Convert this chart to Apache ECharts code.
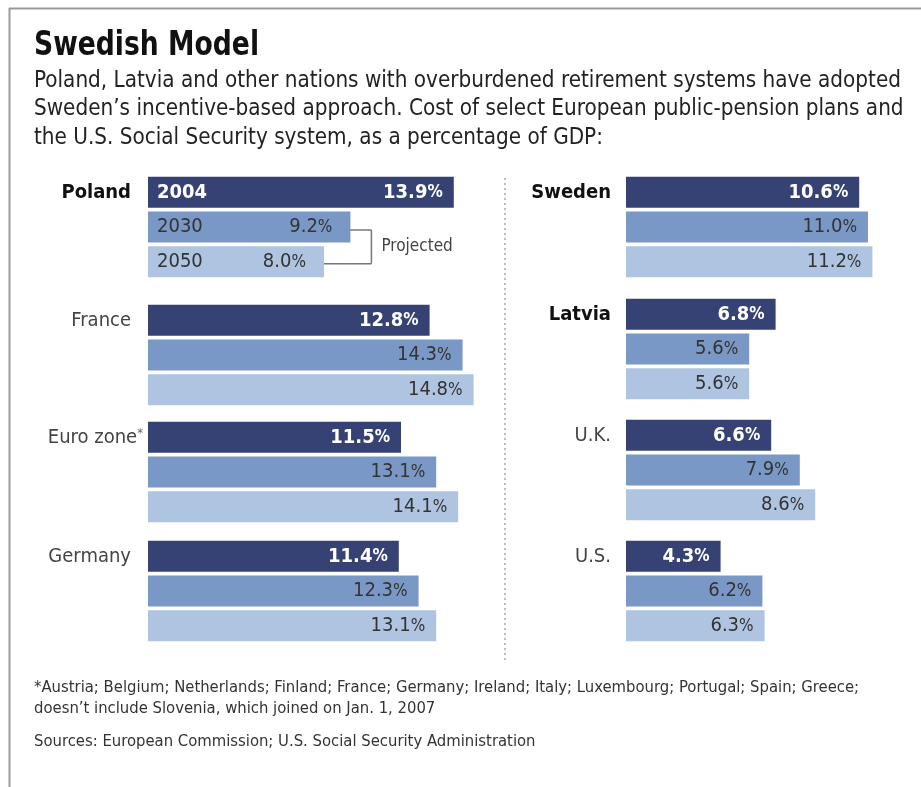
<!DOCTYPE html>
<html><head><meta charset="utf-8">
<script src="https://cdn.jsdelivr.net/npm/echarts@6/dist/echarts.min.js"></script>
<style>html,body{margin:0;padding:0;background:#fff}#c{width:921px;height:787px}</style>
</head><body><div id="c"></div>
<script>
// ---------------- data ----------------
const years = ['2004', '2030', '2050'];
const leftCountries = ['Poland', 'France', 'Euro zone', 'Germany'];
const rightCountries = ['Sweden', 'Latvia', 'U.K.', 'U.S.'];
const poland = [13.9, 9.2, 8.0];
const france = [12.8, 14.3, 14.8];
const euroZone = [11.5, 13.1, 14.1];
const germany = [11.4, 12.3, 13.1];
const sweden = [10.6, 11.0, 11.2];
const latvia = [6.8, 5.6, 5.6];
const uk = [6.6, 7.9, 8.6];
const us = [4.3, 6.2, 6.3];
const boldCountries = ['Poland', 'Sweden', 'Latvia'];
const footnoteCountries = ['Euro zone'];

const titleText = 'Swedish Model';
const subtitleLines = [
  'Poland, Latvia and other nations with overburdened retirement systems have adopted',
  'Sweden\u2019s incentive-based approach. Cost of select European public-pension plans and',
  'the U.S. Social Security system, as a percentage of GDP:'
];
const footLines = [
  '*Austria; Belgium; Netherlands; Finland; France; Germany; Ireland; Italy; Luxembourg; Portugal; Spain; Greece;',
  'doesn\u2019t include Slovenia, which joined on Jan. 1, 2007'
];
const sourceText = 'Sources: European Commission; U.S. Social Security Administration';
const projectedText = 'Projected';

// ---------------- layout / style ----------------
const FONT = '"DejaVu Sans Condensed", "Liberation Sans Narrow", "DejaVu Sans", sans-serif';
const COLORS = ['#364273', '#7a98c5', '#aec4e1'];
const LX = 148, RX = 626, PX = 22, LMAX = 15, RMAX = 12;
const leftTops = [175, 303, 420, 539];
const rightTops = [175, 297, 418, 539];
const leftValues = [poland, france, euroZone, germany];
const rightValues = [sweden, latvia, uk, us];

const groups = [];
leftCountries.forEach((c, i) => groups.push({ name: c, values: leftValues[i], left: LX, max: LMAX, top: leftTops[i], margin: footnoteCountries.includes(c) ? 5 : 17 }));
rightCountries.forEach((c, i) => groups.push({ name: c, values: rightValues[i], left: RX, max: RMAX, top: rightTops[i], margin: 15 }));

const grids = [], xAxes = [], yAxes = [], series = [];
groups.forEach((g, i) => {
  grids.push({ left: g.left, top: g.top, width: g.max * PX, height: 104 });
  xAxes.push({ gridIndex: i, type: 'value', min: 0, max: g.max, show: false });
  yAxes.push({
    gridIndex: i, type: 'category', data: years, inverse: true,
    axisLine: { show: false }, axisTick: { show: false }, splitLine: { show: false },
    axisLabel: {
      margin: g.margin, interval: 0,
      formatter: (v, idx) => idx !== 0 ? '' :
        (boldCountries.includes(g.name) ? '{b|' + g.name + '}' :
          '{n|' + g.name + '}' + (footnoteCountries.includes(g.name) ? '{s|*}' : '')),
      rich: {
        b: { fontFamily: FONT, fontSize: 20, fontWeight: 'bold', color: '#111' },
        n: { fontFamily: FONT, fontSize: 20, color: '#444' },
        s: { fontFamily: FONT, fontSize: 13, color: '#666', padding: [0, 0, 8, 0] }
      }
    }
  });
  const isPoland = g.name === 'Poland';
  series.push({
    type: 'bar', xAxisIndex: i, yAxisIndex: i, barWidth: 31, silent: true,
    data: g.values.map((v, k) => {
      const col = k === 0 ? '#fff' : '#333';
      const fw = k === 0 ? 'bold' : 'normal';
      return {
        value: v,
        itemStyle: { color: COLORS[k] },
        label: {
          show: true, position: 'insideRight',
          distance: (isPoland && k > 0) ? 18 : 11,
          formatter: p => '{v|' + p.value.toFixed(1) + '}{p|%}',
          rich: {
            v: { fontFamily: FONT, fontSize: 20, fontWeight: fw, color: col },
            p: { fontFamily: FONT, fontSize: 17, fontWeight: fw, color: col, padding: [1, 0, 0, 0] }
          }
        }
      };
    })
  });
  if (isPoland) {
    series.push({
      type: 'bar', xAxisIndex: i, yAxisIndex: i, barWidth: 31, barGap: '-100%', silent: true,
      data: g.values.map((v, k) => ({
        value: v,
        itemStyle: { color: 'rgba(0,0,0,0)' },
        label: {
          show: true, position: 'insideLeft', distance: 9,
          fontFamily: FONT, fontSize: 20,
          fontWeight: k === 0 ? 'bold' : 'normal',
          color: k === 0 ? '#fff' : '#333',
          formatter: p => years[p.dataIndex]
        }
      }))
    });
  }
});

const chart = echarts.init(document.getElementById('c'), null, { renderer: 'canvas' });
chart.setOption({
  animation: false, backgroundColor: '#fff',
  grid: grids, xAxis: xAxes, yAxis: yAxes, series: series
});

// bracket for projected values, computed from Poland's axis
const p30 = chart.convertToPixel({ xAxisIndex: 0, yAxisIndex: 0 }, [poland[1], 1]);
const p50 = chart.convertToPixel({ xAxisIndex: 0, yAxisIndex: 0 }, [poland[2], 2]);
const vx = Math.max(p30[0], p50[0]) + 21;
const y30 = p30[1] + 3, y50 = p50[1] + 2;
const lineStyle = { stroke: '#777', lineWidth: 1.5 };

const graphic = [
  { type: 'line', shape: { x1: 9, y1: 8.5, x2: 921, y2: 8.5 }, style: { stroke: '#9a9a9a', lineWidth: 2 } },
  { type: 'line', shape: { x1: 9.5, y1: 8, x2: 9.5, y2: 787 }, style: { stroke: '#9a9a9a', lineWidth: 2 } },
  { type: 'line', shape: { x1: 505, y1: 178, x2: 505, y2: 662 }, style: { stroke: '#aaa', lineWidth: 1.5, lineDash: [2, 3] } },
  { type: 'text', x: 34, y: 46, scaleX: 0.87, style: { text: titleText, fontFamily: FONT, fontSize: 34, fontWeight: 'bold', fill: '#111', verticalAlign: 'middle' } },
  { type: 'line', shape: { x1: p30[0] - 10, y1: y30, x2: vx, y2: y30 }, style: lineStyle },
  { type: 'line', shape: { x1: p50[0] - 4, y1: y50, x2: vx, y2: y50 }, style: lineStyle },
  { type: 'line', shape: { x1: vx, y1: y30, x2: vx, y2: y50 }, style: lineStyle },
  { type: 'text', x: vx + 10, y: (y30 + y50) / 2, style: { text: projectedText, fontFamily: FONT, fontSize: 17, fill: '#444', verticalAlign: 'middle' } },
  { type: 'text', x: 34, y: 742, style: { text: sourceText, fontFamily: FONT, fontSize: 16.5, fill: '#333', verticalAlign: 'middle' } }
];
const subY = [81, 109, 138];
subtitleLines.forEach((t, i) => graphic.push({ type: 'text', x: 34, y: subY[i], scaleX: 0.99, style: { text: t, fontFamily: FONT, fontSize: 22.5, fill: '#222', verticalAlign: 'middle' } }));
const footY = [688, 709];
footLines.forEach((t, i) => graphic.push({ type: 'text', x: 34, y: footY[i], style: { text: t, fontFamily: FONT, fontSize: 16.5, fill: '#333', verticalAlign: 'middle' } }));

chart.setOption({ graphic: graphic });
</script>
</body></html>
